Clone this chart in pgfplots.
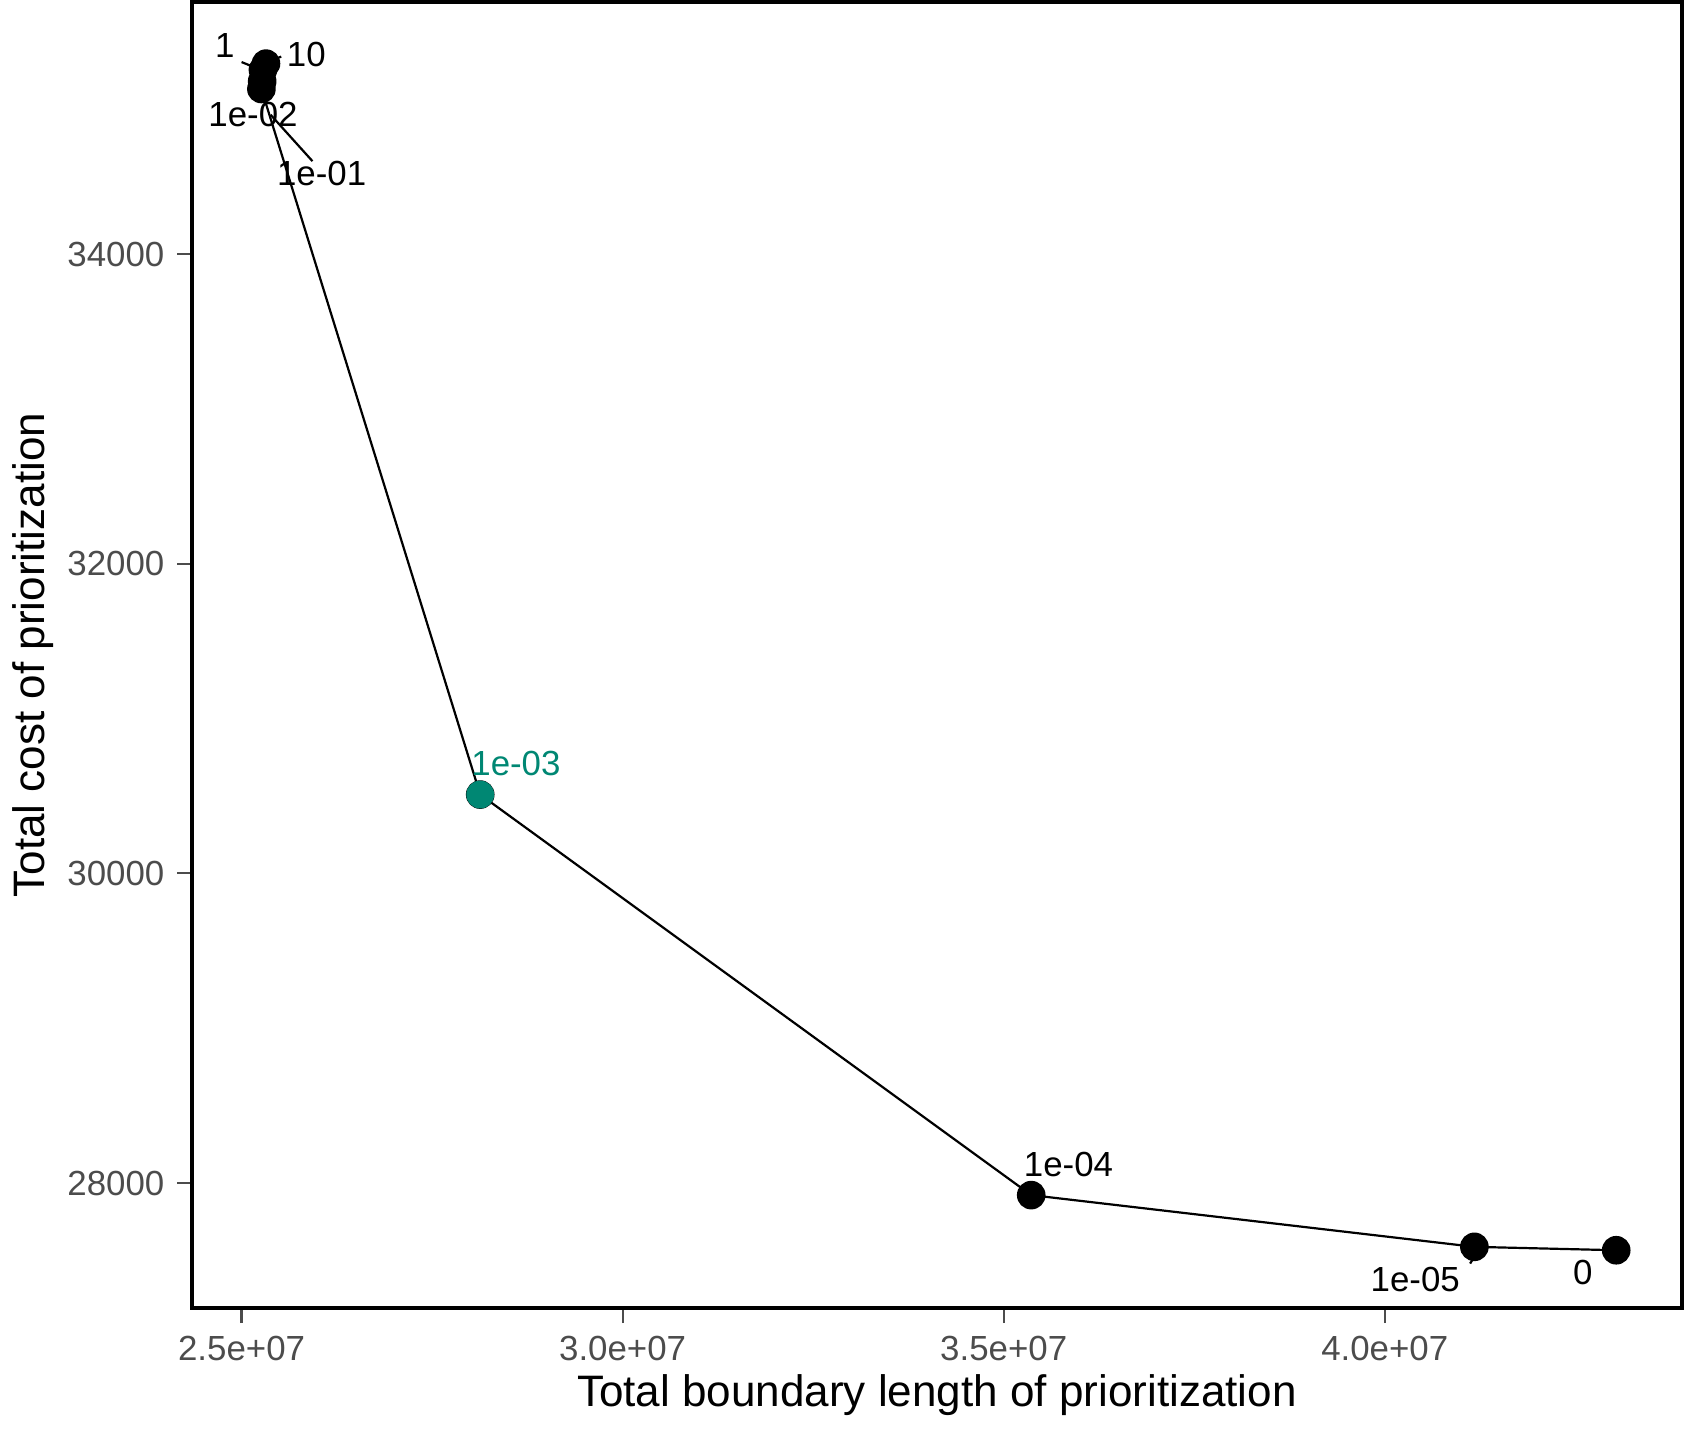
\documentclass[border=0pt]{standalone}
\usepackage{pgfplots}
\pgfplotsset{compat=1.18}
\usepackage{fontspec}
\setmainfont{Liberation Sans}
\begin{document}
\begin{tikzpicture}
\begin{axis}[width=406pt,height=356pt,scale only axis,
 xmin=2.435e7,xmax=4.39e7,ymin=27190,ymax=35628,
 scaled ticks=false,
 xtick={2.5e7,3e7,3.5e7,4e7},xticklabels={2.5e+07,3.0e+07,3.5e+07,4.0e+07},
 ytick={28000,30000,32000,34000},yticklabels={28000,30000,32000,34000},
 axis line style={line width=1.1pt},
 tick style={black!70,line width=0.6pt},tick align=outside,major tick length=4pt,
 xtick pos=bottom,ytick pos=left,
 ticklabel style={font=\fontsize{9.5}{11}\selectfont,text=black!70},
 xlabel={Total boundary length of prioritization},
 ylabel={Total cost of prioritization},
 label style={font=\fontsize{12}{14}\selectfont},
 xlabel style={yshift=3pt},ylabel style={yshift=-3pt},
 clip=false]
\addplot[black,line width=0.6pt,mark=*,mark size=3.6pt] coordinates {
(4.3037e7,27566)(4.1176e7,27588)(3.5361e7,27922)(2.8131e7,30509)(2.526e7,35066)(2.527e7,35116)(2.528e7,35190)(2.532e7,35230)};
\addplot[only marks,mark=*,mark size=3.6pt,color={rgb,255:red,0;green,135;blue,115}] coordinates {(2.8131e7,30509)};
\begin{scope}[font=\fontsize{9.5}{11}\selectfont]
\node at (axis cs:2.478e7,35350) {1};
\node at (axis cs:2.585e7,35290) {10};
\node at (axis cs:2.515e7,34900) {1e-02};
\node at (axis cs:2.605e7,34520) {1e-01};
\node[color={rgb,255:red,0;green,135;blue,115}] at (axis cs:2.86e7,30710) {1e-03};
\node at (axis cs:3.585e7,28120) {1e-04};
\node at (axis cs:4.04e7,27380) {1e-05};
\node at (axis cs:4.26e7,27420) {0};
\draw[line width=0.6pt] (axis cs:2.5e7,35240)--(axis cs:2.52e7,35200);
\draw[line width=0.6pt] (axis cs:2.535e7,35245)--(axis cs:2.552e7,35275);
\draw[line width=0.6pt] (axis cs:2.538e7,34900)--(axis cs:2.593e7,34600);
\draw[line width=0.6pt] (axis cs:4.112e7,27480)--(axis cs:4.122e7,27560);
\end{scope}
\end{axis}
\end{tikzpicture}
\end{document}
